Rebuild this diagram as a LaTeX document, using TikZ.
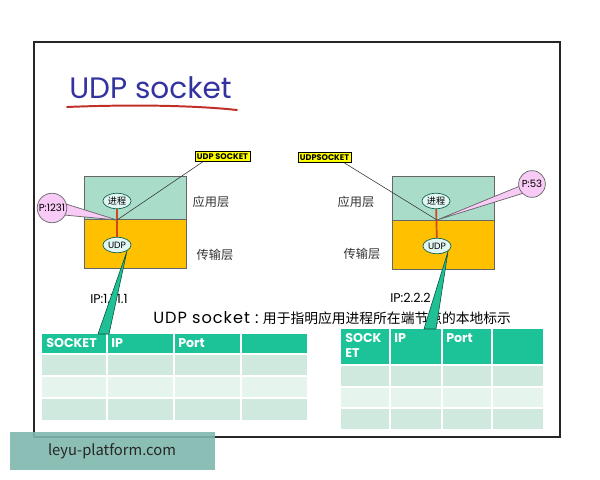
\documentclass[tikz,border=0pt]{standalone}
\usepackage{fontspec}
\setmainfont{Poppins}
\newfontfamily\cjk{Noto Sans CJK SC}
\usetikzlibrary{calc,shapes.geometric}
\definecolor{cTitle}{HTML}{3232A0}
\definecolor{cUnder}{HTML}{C03028}
\definecolor{cApp}{HTML}{A9DDC9}
\definecolor{cTrans}{HTML}{FFC000}
\definecolor{cProc}{HTML}{E2F6F4}
\definecolor{cLink}{HTML}{D2461C}
\definecolor{cPort}{HTML}{F8CAF6}
\definecolor{cSock}{HTML}{FFFF00}
\definecolor{cHead}{HTML}{1CC298}
\definecolor{cRowA}{HTML}{CFE9DF}
\definecolor{cRowB}{HTML}{E6F4EE}
\definecolor{cCall}{HTML}{20C096}
\definecolor{cMark}{HTML}{7FB8AE}
\definecolor{cText}{HTML}{333333}

\begin{document}
\begin{tikzpicture}[x=0.025cm,y=-0.025cm,
    appl/.style={draw=black!60,fill=cApp,line width=0.6pt},
    trans/.style={draw=black!60,fill=cTrans,line width=0.6pt},
    proc/.style={ellipse,draw=cHead!50!black,fill=cProc,line width=0.5pt,inner sep=0pt,
                 minimum width=20pt,minimum height=11pt,font=\fontsize{6.5}{7}\selectfont},
    link/.style={cLink,line width=1.2pt},
    sock/.style={draw=black,fill=cSock,line width=0.5pt,inner sep=1.4pt,
                 font=\bfseries\fontsize{5.8}{6.5}\selectfont},
    wire/.style={black!80,line width=0.4pt},
    port/.style={circle,draw=black!60,fill=cPort,line width=0.5pt,inner sep=0pt,
                 font=\fontsize{7.2}{8}\selectfont},
    pcall/.style={draw=black!60,fill=cPort,line width=0.5pt,line join=round},
    tcall/.style={draw=cHead!40!black,fill=cCall,line width=0.4pt,line join=round},
    lay/.style={font=\cjk\fontsize{8.7}{10}\selectfont,text=cText},
    addr/.style={anchor=west,inner sep=0pt,font=\fontsize{9}{10}\selectfont},
    hd/.style={anchor=north west,text=white,inner sep=0pt,align=left,
               font=\bfseries\fontsize{9}{11}\selectfont},
    grid/.style={white,line width=1pt}]

  \useasboundingbox (0,0) rectangle (600,480);
  \fill[white] (0,0) rectangle (600,480);
  % frame
  \draw[line width=1.6pt,black!85] (34,42) rectangle (560,437);
  % title
  \node[anchor=west,text=cTitle,font=\fontsize{21}{24}\selectfont,inner sep=0pt] (title) at (69,88) {UDP socket};
  \draw[cUnder,line width=1.4pt,line cap=round] (67,107) .. controls (140,104) and (200,106) .. (237,110);

  % left host
  \draw[appl] (84,176) rectangle (186,219);
  \draw[trans] (84,219) rectangle (186,268);
  \node[proc] (procL) at (117,201) {\cjk 进程};
  \node[proc] (udpL) at (117,245) {UDP};
  \coordinate (jL) at (117,220);
  \draw[link] (procL) -- (udpL);
  \node[sock] (sockL) at (222.5,156.5) {UDP SOCKET};
  \draw[wire] (sockL.195) -- (jL);
  \coordinate (pL) at (52,208);
  \filldraw[pcall] ($(pL)+(14,-4)$) -- (jL) -- ($(pL)+(12,7)$) -- cycle;
  \node[port,minimum size=21pt] (portL) at (pL) {\makebox[0pt]{P:1231}};
  \node[lay] (appL) at (211,202) {应用层};
  \node[lay] (traL) at (215,255) {传输层};

  % right host
  \draw[appl] (392,176) rectangle (494,220);
  \draw[trans] (392,220) rectangle (494,269);
  \node[proc] (procR) at (436,201) {\cjk 进程};
  \node[proc] (udpR) at (437,246) {UDP};
  \coordinate (jR) at (437,220);
  \draw[link] (procR) -- (udpR);
  \node[sock] (sockR) at (324.5,157.5) {UDPSOCKET};
  \draw[wire] (sockR.-15) -- (jR);
  \coordinate (pR) at (532,184);
  \filldraw[pcall] ($(pR)+(-12,2)$) -- (jR) -- ($(pR)+(-8,9)$) -- cycle;
  \node[port,minimum size=19pt] (portR) at (pR) {\makebox[0pt]{P:53}};
  \node[lay] (appR) at (356,202) {应用层};
  \node[lay] (traR) at (362,254) {传输层};

  % addresses and note
  \node[addr] (ipL) at (90,299) {IP:1.1.1.1};
  \node[addr] (ipR) at (390,298) {IP:2.2.2};
  \node[anchor=west,inner sep=0pt,font=\fontsize{11.5}{13}\selectfont] (note) at (153,318)
    {{\addfontfeature{LetterSpace=6}UDP socket :}\ {\cjk\fontsize{9.8}{11}\selectfont 用于指明应用进程所在端节点的本地标示}};

  % left table
  \coordinate (tabL) at (42,334);
  \fill[cHead] (42,334) rectangle (307,354);
  \fill[cRowA] (42,354) rectangle (307,376);
  \fill[cRowB] (42,376) rectangle (307,398);
  \fill[cRowA] (42,398) rectangle (307,420);
  \foreach \x in {107,174,241} \draw[grid] (\x,334) -- (\x,420);
  \foreach \y in {354,376,398} \draw[grid] (42,\y) -- (307,\y);
  \node[hd] (hL1) at (46,338) {SOCKET};
  \node[hd] (hL2) at (111,338) {IP};
  \node[hd] (hL3) at (178,338) {Port};

  % right table
  \coordinate (tabR) at (341,329);
  \fill[cHead] (341,329) rectangle (543,365);
  \fill[cRowA] (341,365) rectangle (543,387);
  \fill[cRowB] (341,387) rectangle (543,408);
  \fill[cRowA] (341,408) rectangle (543,429);
  \foreach \x in {390,442,492} \draw[grid] (\x,329) -- (\x,429);
  \foreach \y in {365,387,408} \draw[grid] (341,\y) -- (543,\y);
  \node[hd] (hR1) at (345,333) {SOCK\\ET};
  \node[hd] (hR2) at (394,333) {IP};
  \node[hd] (hR3) at (446,333) {Port};

  % callouts to the tables
  \filldraw[tcall] (udpL.-30) -- ($(tabL)+(67,0)$) -- ($(tabL)+(56,0)$) -- cycle;
  \filldraw[tcall] (udpR.-25) -- ($(tabR)+(95,0)$) -- ($(tabR)+(83,0)$) -- cycle;

  % watermark
  \fill[cMark,fill opacity=0.9] (10,432) rectangle (215,470);
  \node[font=\cjk\fontsize{10.5}{12}\selectfont,text=black!85] (mark) at (112,451) {leyu-platform.com};
\end{tikzpicture}
\end{document}
